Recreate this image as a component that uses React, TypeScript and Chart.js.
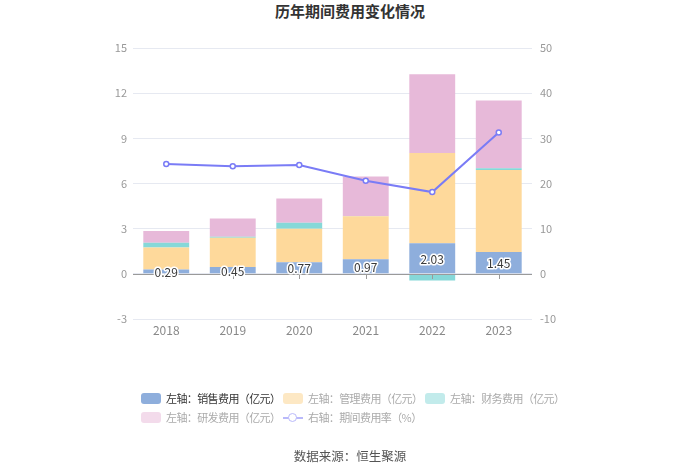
import { useEffect, useRef } from "react";
import { Chart, registerables } from "chart.js";

Chart.register(...registerables);

const years = ["2018", "2019", "2020", "2021", "2022", "2023"];
const sales = [0.29, 0.45, 0.77, 0.97, 2.03, 1.45];
const admin = [1.46, 1.95, 2.23, 2.85, 6.0, 5.44];
const finance = [0.32, 0.07, 0.4, 0.02, -0.45, 0.13];
const rnd = [0.78, 1.2, 1.6, 2.63, 5.23, 4.49];
const expenseRate = [24.3, 23.8, 24.1, 20.6, 18.1, 31.3];

const leftTicks = [-3, 0, 3, 6, 9, 12, 15];
const rightTicks = [-10, 0, 10, 20, 30, 40, 50];

const FONT = "'Noto Sans CJK SC', 'Noto Sans', sans-serif";

// zero line, small ticks and value labels on the sales bars
const extrasPlugin = {
  id: "extras",
  afterDatasetsDraw(chart: Chart) {
    const { ctx, chartArea } = chart;
    const y = chart.scales.y;
    const x = chart.scales.x;
    const y0 = y.getPixelForValue(0);
    ctx.save();
    ctx.strokeStyle = "#9a9a9a";
    ctx.lineWidth = 1;
    ctx.beginPath();
    ctx.moveTo(chartArea.left, Math.round(y0) + 0.5);
    ctx.lineTo(chartArea.right, Math.round(y0) + 0.5);
    years.forEach((_, i) => {
      const px = Math.round(x.getPixelForValue(i)) + 0.5;
      ctx.moveTo(px, Math.round(y0) + 0.5);
      ctx.lineTo(px, Math.round(y0) + 5);
    });
    ctx.stroke();

    const meta = chart.getDatasetMeta(0);
    ctx.font = `12px ${FONT}`;
    ctx.textAlign = "center";
    ctx.textBaseline = "middle";
    ctx.lineJoin = "round";
    meta.data.forEach((bar: any, i) => {
      const cy = (bar.y + bar.base) / 2 + 1;
      ctx.lineWidth = 3;
      ctx.strokeStyle = "#ffffff";
      ctx.strokeText(sales[i].toFixed(2), bar.x, cy);
      ctx.fillStyle = "#3a3a3a";
      ctx.fillText(sales[i].toFixed(2), bar.x, cy);
    });
    ctx.restore();
  },
};

const legendItems = [
  { label: "左轴：销售费用（亿元）", color: "#8eaedc", text: "#333333", kind: "box" },
  { label: "左轴：管理费用（亿元）", color: "#fde8c4", text: "#aaaaaa", kind: "box" },
  { label: "左轴：财务费用（亿元）", color: "#c2ebeb", text: "#aaaaaa", kind: "box" },
  { label: "左轴：研发费用（亿元）", color: "#f3dbeb", text: "#aaaaaa", kind: "box" },
  { label: "右轴：期间费用率（%）", color: "#b9b9fa", text: "#aaaaaa", kind: "line" },
];

const App = () => {
  const canvasRef = useRef<HTMLCanvasElement | null>(null);
  const chartRef = useRef<Chart | null>(null);

  useEffect(() => {
    if (!canvasRef.current) return;
    chartRef.current?.destroy();

    chartRef.current = new Chart(canvasRef.current, {
      type: "bar",
      data: {
        labels: years,
        datasets: [
          { type: "bar", label: "销售费用", data: sales, backgroundColor: "#8eaedc", stack: "s", yAxisID: "y", order: 2 },
          { type: "bar", label: "管理费用", data: admin, backgroundColor: "#fed99b", stack: "s", yAxisID: "y", order: 2 },
          { type: "bar", label: "财务费用", data: finance, backgroundColor: "#86d8d8", stack: "s", yAxisID: "y", order: 2 },
          { type: "bar", label: "研发费用", data: rnd, backgroundColor: "#e7b9d9", stack: "s", yAxisID: "y", order: 2 },
          {
            type: "line",
            label: "期间费用率",
            data: expenseRate,
            borderColor: "#7a7cf6",
            borderWidth: 2,
            pointRadius: 2.5,
            pointBorderWidth: 1.5,
            pointBackgroundColor: "#ffffff",
            pointBorderColor: "#7a7cf6",
            yAxisID: "y1",
            order: 1,
            tension: 0,
          },
        ],
      },
      options: {
        animation: false,
        responsive: false,
        layout: { padding: { top: 48, bottom: 124, left: 0, right: 0 } },
        datasets: { bar: { categoryPercentage: 0.69, barPercentage: 1 } },
        plugins: {
          legend: { display: false },
          title: { display: false },
          tooltip: { enabled: false },
        },
        scales: {
          x: {
            stacked: true,
            grid: { display: false, drawTicks: false },
            border: { display: false },
            ticks: { color: "#888888", font: { size: 12, family: FONT }, padding: 4 },
            afterFit: (s: any) => { s.height = 30; },
          },
          y: {
            stacked: true,
            min: -3,
            max: 15,
            afterBuildTicks: (s: any) => { s.ticks = leftTicks.map((v) => ({ value: v })); },
            grid: { color: "#e6e9f1", drawTicks: false },
            border: { display: false },
            ticks: { color: "#999999", font: { size: 11, family: FONT }, padding: 6 },
            afterFit: (s: any) => { s.width = 133; },
          },
          y1: {
            position: "right",
            min: -10,
            max: 50,
            afterBuildTicks: (s: any) => { s.ticks = rightTicks.map((v) => ({ value: v })); },
            grid: { display: false, drawTicks: false },
            border: { display: false },
            ticks: { color: "#999999", font: { size: 11, family: FONT }, padding: 8 },
            afterFit: (s: any) => { s.width = 168; },
          },
        },
      },
      plugins: [extrasPlugin],
    } as any);

    return () => {
      chartRef.current?.destroy();
      chartRef.current = null;
    };
  }, []);

  const itemX = [141, 283, 425, 141, 283];
  const itemY = [398, 398, 398, 417, 417];

  return (
    <div style={{ position: "fixed", left: 0, top: 0, width: 700, height: 473, background: "#fff", fontFamily: FONT }}>
      <div style={{ position: "absolute", top: 0, left: 0, width: 700, textAlign: "center", fontSize: 15, fontWeight: "bold", color: "#333", lineHeight: "22px" }}>
        历年期间费用变化情况
      </div>
      <canvas ref={canvasRef} width={700} height={473} style={{ position: "absolute", left: 0, top: 0 }} />
      {legendItems.map((it, i) => (
        <div key={it.label} style={{ position: "absolute", left: itemX[i], top: itemY[i] - 9, height: 18, display: "flex", alignItems: "center", fontSize: 11, letterSpacing: -0.6, color: it.text, whiteSpace: "nowrap" }}>
          {it.kind === "box" ? (
            <span style={{ display: "inline-block", width: 20, height: 11, borderRadius: 3, background: it.color, marginRight: 5 }} />
          ) : (
            <span style={{ position: "relative", display: "inline-block", width: 20, height: 11, marginRight: 5 }}>
              <span style={{ position: "absolute", left: 0, top: 5, width: 20, height: 2, background: it.color }} />
              <span style={{ position: "absolute", left: 5, top: 1, width: 7, height: 7, borderRadius: "50%", border: `1.5px solid ${it.color}`, background: "#fff" }} />
            </span>
          )}
          {it.label}
        </div>
      ))}
      <div style={{ position: "absolute", top: 446, left: 0, width: 700, textAlign: "center", fontSize: 12.5, color: "#555", lineHeight: "20px" }}>
        数据来源：恒生聚源
      </div>
    </div>
  );
};

export default App;
